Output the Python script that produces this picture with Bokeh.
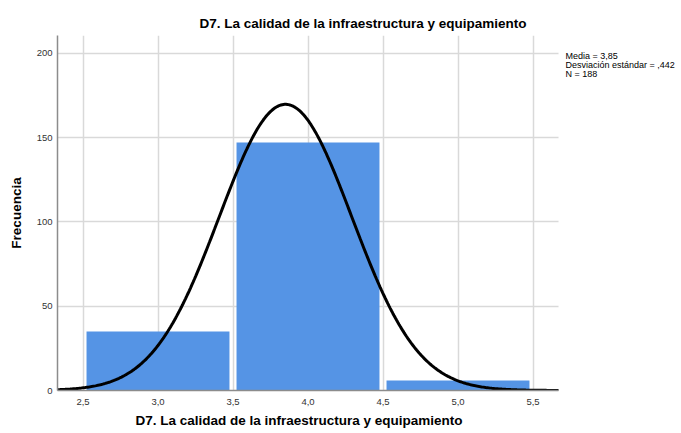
import numpy as np
from bokeh.plotting import figure
from bokeh.models import Range1d, Label, CustomJSTickFormatter, FixedTicker, Title
from bokeh.embed import file_html
from bokeh.resources import INLINE

# ---- data ----
bin_centers = [3.0, 4.0, 5.0]
frequencies = [35, 147, 6]
stat_mean = 3.85
stat_sd = 0.442
stat_n = 188
bin_width = 1.0
x_ticks = [2.5, 3.0, 3.5, 4.0, 4.5, 5.0, 5.5]
y_ticks = [0, 50, 100, 150, 200]
title_text = "D7. La calidad de la infraestructura y equipamiento"
x_label = "D7. La calidad de la infraestructura y equipamiento"
y_label = "Frecuencia"

FONT = "Liberation Sans"
X_START, X_AXIS_END, X_FRAME_END = 2.33, 5.67, 6.49

p = figure(width=681, height=433, output_backend="svg", toolbar_location=None,
           x_range=Range1d(X_START, X_FRAME_END), y_range=Range1d(0, 210.5),
           min_border_left=57, min_border_right=0, min_border_top=35,
           min_border_bottom=43)
p.outline_line_color = None
p.background_fill_color = "white"

p.title.text = title_text
p.title.text_font = FONT
p.title.text_font_size = "13.5px"
p.title.text_font_style = "bold"
p.title.text_color = "#000000"
p.title.align = "left"
p.title.offset = 142
p.title.standoff = 9

# grid
p.xgrid.ticker = FixedTicker(ticks=x_ticks)
p.ygrid.ticker = FixedTicker(ticks=y_ticks)
p.ygrid.cross_bounds = (X_START, X_AXIS_END)
for g in (p.xgrid, p.ygrid):
    g.grid_line_color = "#d9d9d9"
    g.grid_line_width = 1.5

# axes
p.xaxis.ticker = FixedTicker(ticks=x_ticks)
p.yaxis.ticker = FixedTicker(ticks=y_ticks)
p.xaxis.bounds = (X_START, X_AXIS_END)
p.xaxis.formatter = CustomJSTickFormatter(code="return tick.toFixed(1).replace('.', ',');")
for ax in (p.xaxis, p.yaxis):
    ax.axis_line_color = "#8c8c8c"
    ax.axis_line_width = 1.5
    ax.major_tick_in = 0
    ax.major_tick_out = 0
    ax.minor_tick_in = 0
    ax.minor_tick_out = 0
    ax.major_label_text_font = FONT
    ax.major_label_text_font_size = "9.5px"
    ax.major_label_text_color = "#333333"
    ax.axis_label_text_font = FONT
    ax.axis_label_text_font_size = "13.5px"
    ax.axis_label_text_font_style = "bold"
    ax.axis_label_text_color = "#000000"
p.yaxis.axis_label = y_label
p.xaxis.major_label_standoff = 8
p.yaxis.major_label_standoff = 5
p.yaxis.axis_label_standoff = 10

# x-axis title, aligned under the plotting area
xt = Title(text=x_label, text_font=FONT, text_font_size="13.5px",
           text_font_style="bold", text_color="#000000", align="left",
           offset=78, standoff=6)
p.add_layout(xt, "below")

# bars
p.vbar(x=bin_centers, top=frequencies, width=0.953, bottom=0,
       fill_color="#5594e5", line_color=None)

# fitted normal curve
xs = np.linspace(X_START, X_AXIS_END, 400)
ys = stat_n * bin_width * np.exp(-0.5 * ((xs - stat_mean) / stat_sd) ** 2) / (stat_sd * np.sqrt(2 * np.pi))
p.line(xs, ys, line_color="black", line_width=3)

# stats text
def es_num(v, nd):
    s = f"{v:.{nd}f}".replace(".", ",")
    if s.startswith("0,"):
        s = s[1:]
    return s

lines = [f"Media = {es_num(stat_mean, 2)}",
         f"Desviación estándar = {es_num(stat_sd, 3)}",
         f"N = {stat_n}"]
for i, t in enumerate(lines):
    p.add_layout(Label(x=5.716, y=198.4 - i * 5.3, text=t, text_font=FONT,
                       text_font_size="9px", text_color="#000000",
                       text_baseline="middle", text_align="left"))

open("out.html", "w").write(file_html(p, INLINE))
